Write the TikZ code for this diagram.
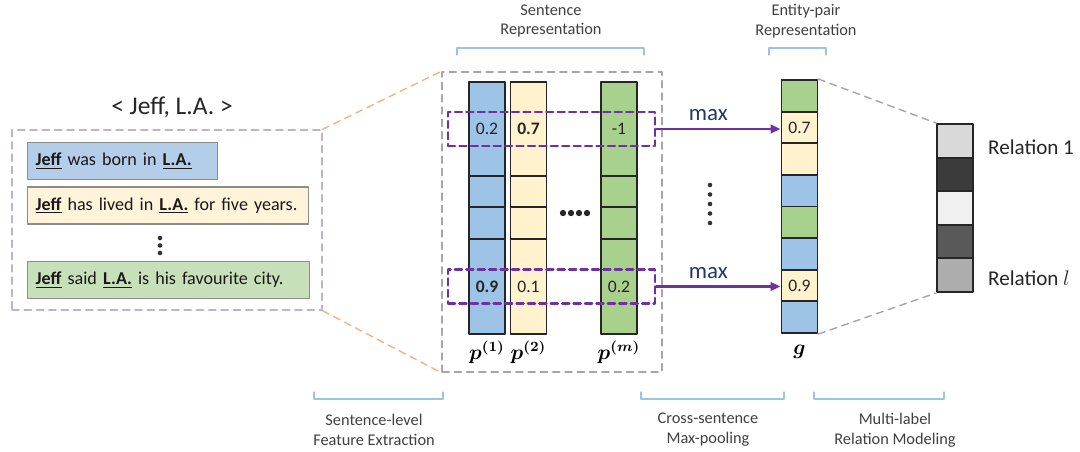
\documentclass[tikz,border=0pt]{standalone}
\usepackage{fontspec}
\usepackage{amsmath}
\setmainfont{Carlito}
\usetikzlibrary{arrows.meta}

\definecolor{colblue}{HTML}{9DC3E6}
\definecolor{colyellow}{HTML}{FFF2CC}
\definecolor{colgreen}{HTML}{A9D18E}
\definecolor{sentblue}{HTML}{B4CDE8}
\definecolor{sentyellow}{HTML}{FFF4DA}
\definecolor{sentgreen}{HTML}{C8E0BA}
\definecolor{maxpurple}{HTML}{7030A0}
\definecolor{maxtext}{HTML}{203864}
\definecolor{bracketblue}{HTML}{9DC3E6}
\definecolor{zoomorange}{HTML}{F4B183}
\definecolor{zoomgrey}{HTML}{A6A6A6}
\definecolor{ctxlilac}{HTML}{BDB4CC}
\definecolor{labelgrey}{HTML}{404040}

\newcommand{\ent}[1]{\underline{\textbf{#1}}}

\begin{document}
\begin{tikzpicture}[x=0.02cm,y=-0.02cm,line cap=round,line join=round,
  cell/.style={draw=black!85,line width=1.1pt,minimum width=0.72cm,inner sep=0pt,font=\fontsize{10}{12}\selectfont,text=black!85},
  sent/.style={draw=black!45,line width=0.8pt,anchor=west,minimum height=0.74cm,inner xsep=0.16cm,align=left,font=\fontsize{10.3}{12}\selectfont,text=black!90},
  pool/.style={draw=maxpurple,dashed,dash pattern=on 4pt off 2.5pt,line width=1.4pt,minimum width=4.14cm,minimum height=0.68cm},
  zoomline/.style={dashed,dash pattern=on 4pt off 3pt,line width=0.8pt},
  maxarrow/.style={draw=maxpurple,line width=1.4pt,-{Triangle[length=0.2cm,width=0.17cm]}},
  brk/.style={draw=bracketblue,line width=0.7pt},
  lbl/.style={font=\fontsize{9.3}{11.3}\selectfont,align=center,text=labelgrey},
  maxlbl/.style={font=\fontsize{13}{15}\selectfont,text=maxtext},
  rel/.style={font=\fontsize{12}{14}\selectfont,text=black!85,anchor=west},
  veclbl/.style={font=\fontsize{12}{14}\selectfont}]
  \useasboundingbox (0,0) rectangle (1080,451);

  % 实体对与句子
  \node[font=\fontsize{14.5}{16}\selectfont,text=black!85] (pair) at (172,107) {< Jeff, L.A. >};
  \node[draw=ctxlilac,zoomline,line width=0.9pt,minimum width=6.2cm,minimum height=3.6cm] (ctx) at (167,220) {};
  \node[sent,fill=sentblue,text width=3.48cm] (s1) at (27,161) {\ent{Jeff} was born in \ent{L.A.}};
  \node[sent,fill=sentyellow,text width=5.30cm] (s2) at (27,205.5) {\ent{Jeff} has lived in \ent{L.A.} for five years.};
  \node[sent,fill=sentgreen,text width=5.32cm] (s3) at (27,280) {\ent{Jeff} said \ent{L.A.} is his favourite city.};
  \foreach \k in {0,1,2} {
    \fill[black!80] (160,238+\k*7.5) circle (1.3pt);
  }

  % 句子表示
  \node[draw=zoomgrey,zoomline,minimum width=4.4cm,minimum height=6cm] (sentbox) at (552,222) {};
  \draw[zoomline,draw=zoomorange] (ctx.north east) -- (sentbox.north west);
  \draw[zoomline,draw=zoomorange] (ctx.south east) -- (sentbox.south west);
  \foreach \n/\x/\c/\va/\vb in {1/487/colblue/0.2/\textbf{0.9},2/528.5/colyellow/\textbf{0.7}/0.1,m/619/colgreen/-1/0.2} {
    \node[cell,fill=\c,minimum height=1.88cm] (p\n-top) at (\x,129) {\va};
    \node[cell,fill=\c,minimum height=0.62cm] (p\n-mid) at (\x,191.5) {};
    \node[cell,fill=\c,minimum height=0.64cm] (p\n-low) at (\x,223) {};
    \node[cell,fill=\c,minimum height=1.9cm] (p\n-bot) at (\x,286.5) {\vb};
    \node[veclbl] (p\n-lbl) at (\x,352) {$\boldsymbol{p}^{\boldsymbol{(\n)}}$};
  }
  \foreach \k in {0,...,3} {
    \fill[black!85] (563+\k*8,213) circle (1.8pt);
  }
  \node[pool] (pool1) at (551.5,129) {};
  \node[pool] (pool2) at (551.5,286.5) {};

  % 实体对表示
  \foreach \i/\c/\v in {1/colgreen/{},2/colyellow/0.7,3/colyellow/{},4/colblue/{},5/colgreen/{},6/colblue/{},7/colyellow/0.9,8/colblue/{}} {
    \node[cell,fill=\c,minimum height=0.6325cm] (g\i) at (799.5,{80+31.625*(\i-0.5)}) {\v};
  }
  \node[veclbl] (g-lbl) at (799.5,352) {$\boldsymbol{g}$};
  \draw[maxarrow] (pool1.east) -- (pool1.east -| g2.west) coordinate[pos=0.42] (m1);
  \draw[maxarrow] (pool2.east) -- (pool2.east -| g7.west) coordinate[pos=0.42] (m2);
  \node[maxlbl,above=1pt] (max1) at (m1) {max};
  \node[maxlbl,above=1pt] (max2) at (m2) {max};
  \foreach \k in {0,...,4} {
    \fill[black!80] (710,185+\k*9.5) circle (1.3pt);
  }

  % 多标签关系
  \foreach \i/\c in {1/black!15,2/black!77,3/black!6,4/black!65,5/black!32} {
    \node[cell,fill=\c,minimum height=0.672cm] (r\i) at (955,{124+33.6*(\i-0.5)}) {};
  }
  \draw[zoomline,draw=zoomgrey] (g1.north east) -- (r1.north west);
  \draw[zoomline,draw=zoomgrey] (g8.south east) -- (r5.south west);
  \node[rel] (rel1) at (982,147) {Relation 1};
  \node[rel] (rell) at (982,278) {Relation $l$};

  % 上方与下方括号
  \draw[brk] (457,55) -- (457,48) -- (644,48) -- (644,55);
  \node[lbl] (srep) at (551,21) {Sentence\\Representation};
  \draw[brk] (769,55) -- (769,48) -- (826,48) -- (826,55);
  \node[lbl] (erep) at (806,21) {Entity-pair\\Representation};
  \draw[brk] (314,392) -- (314,399) -- (443,399) -- (443,392);
  \node[lbl] (stage1) at (374,430) {Sentence-level\\Feature Extraction};
  \draw[brk] (641,392) -- (641,399) -- (784,399) -- (784,392);
  \node[lbl] (stage2) at (708,430) {Cross-sentence\\Max-pooling};
  \draw[brk] (814,392) -- (814,399) -- (944,399) -- (944,392);
  \node[lbl] (stage3) at (895,430) {Multi-label\\Relation Modeling};
\end{tikzpicture}
\end{document}
